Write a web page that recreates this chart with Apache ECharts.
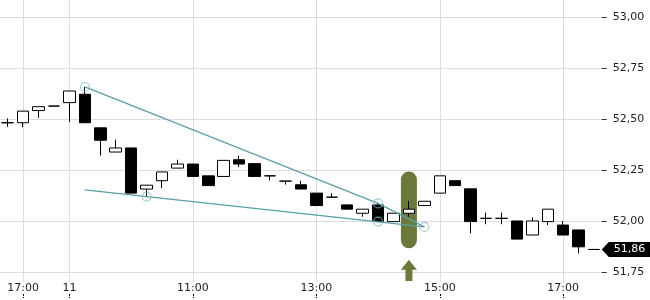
<!DOCTYPE html>
<html>
<head>
<meta charset="utf-8">
<script src="https://cdn.jsdelivr.net/npm/echarts@6/dist/echarts.min.js"></script>
<style>html,body{margin:0;padding:0;background:#fff;}#c{width:650px;height:300px;}</style>
</head>
<body>
<div id="c"></div>
<script>
// ---- data ----
var categories = ['16:45','17:00','17:15','17:30',
  '09:00','09:15','09:30','09:45','10:00','10:15','10:30','10:45',
  '11:00','11:15','11:30','11:45','12:00','12:15','12:30','12:45',
  '13:00','13:15','13:30','13:45','14:00','14:15','14:30','14:45',
  '15:00','15:15','15:30','15:45','16:00','16:15','16:30','16:45',
  '17:00','17:15','17:30'];
var opens  = [52.483,52.483,52.543,52.565,52.582,52.623,52.458,52.339,52.359,52.157,52.198,52.260,52.280,52.222,52.219,52.301,52.282,52.222,52.196,52.178,52.137,52.117,52.079,52.038,52.079,51.997,52.038,52.076,52.137,52.198,52.158,52.013,52.013,52.000,51.931,51.997,51.980,51.956,51.860];
var closes = [52.483,52.540,52.562,52.565,52.639,52.483,52.397,52.359,52.137,52.176,52.241,52.280,52.219,52.174,52.298,52.280,52.219,52.222,52.196,52.157,52.076,52.117,52.058,52.058,51.997,52.038,52.058,52.097,52.222,52.174,51.997,52.013,52.013,51.911,52.000,52.058,51.931,51.873,51.860];
var lows   = [52.463,52.461,52.507,52.565,52.486,52.483,52.321,52.339,52.137,52.120,52.162,52.260,52.219,52.174,52.219,52.265,52.219,52.199,52.179,52.157,52.076,52.117,52.058,52.021,51.997,51.997,52.021,52.076,52.137,52.174,51.939,51.984,51.984,51.911,51.931,51.980,51.931,51.840,51.860];
var highs  = [52.504,52.540,52.562,52.565,52.639,52.659,52.458,52.400,52.359,52.176,52.241,52.301,52.280,52.222,52.298,52.321,52.282,52.222,52.196,52.198,52.137,52.137,52.079,52.058,52.086,52.038,52.099,52.097,52.222,52.198,52.158,52.041,52.041,52.000,52.018,52.058,52.000,51.956,51.860];

var xTickIndex = [1, 4, 12, 20, 28, 36];
var xTickText  = ['17:00', '11', '11:00', '13:00', '15:00', '17:00'];
var yTicks = [51.75, 52.00, 52.25, 52.50, 52.75, 53.00];

var upperTrend = [[5, 52.659], [24, 52.0865], [27, 51.971]];
var lowerTrend = [[5, 52.153], [27, 51.971]];
var anchorPoints = [[5, 52.659], [9, 52.120], [24, 52.0865], [24, 51.997], [27, 51.971]];

var markerIndex = [26];
var markerHigh = [52.243];
var markerLow = [51.866];
var arrowTip = [51.809];
var arrowBase = [51.7055];

var lastIndex = [38];
var lastPrice = [51.86];

// ---- build ----
var candleData = opens.map(function (o, i) { return [o, closes[i], lows[i], highs[i]]; });
var fmt = function (v) { return v.toFixed(2).replace('.', ','); };
var FONT = 'DejaVu Sans';
var GRID_LEFT = -0.7, GRID_RIGHT = 48.2;

var chart = echarts.init(document.getElementById('c'), null, {renderer: 'canvas'});
chart.setOption({
  animation: false,
  backgroundColor: '#fff',
  grid: [
    {left: GRID_LEFT, right: GRID_RIGHT, top: 0, height: 282},
    {left: GRID_LEFT, right: GRID_RIGHT, top: 17.6, height: 254.2}
  ],
  xAxis: [
    {
      type: 'category', gridIndex: 0, data: categories, boundaryGap: true,
      axisLine: {show: false}, axisTick: {show: false},
      axisLabel: {
        interval: function (i) { return xTickIndex.indexOf(i) >= 0; },
        formatter: function (v, i) { var k = xTickIndex.indexOf(i); return k >= 0 ? xTickText[k] : ''; },
        margin: 1, fontFamily: FONT, fontSize: 11, color: '#222'
      },
      splitLine: {
        show: true, alignWithLabel: true,
        interval: function (i) { return xTickIndex.indexOf(i) >= 0; },
        lineStyle: {color: '#dcdcdc', width: 1}
      }
    },
    {
      type: 'category', gridIndex: 1, data: categories, boundaryGap: true,
      position: 'bottom', offset: 22.2,
      axisLine: {show: false},
      axisTick: {
        show: true, alignWithLabel: true, length: 4,
        interval: function (i) { return xTickIndex.indexOf(i) >= 0; },
        lineStyle: {color: '#000', width: 1, type: [2, 1]}
      },
      axisLabel: {show: false}, splitLine: {show: false}
    }
  ],
  yAxis: [
    {
      type: 'value', gridIndex: 0, min: 51.70, max: 53.0865, position: 'right',
      axisLine: {show: false}, axisTick: {show: false}, axisLabel: {show: false}, splitLine: {show: false}
    },
    {
      type: 'value', gridIndex: 1, min: yTicks[0], max: yTicks[yTicks.length - 1], interval: 0.25, position: 'right',
      axisLine: {show: false},
      axisTick: {show: true, length: 5, lineStyle: {color: '#333', width: 1}},
      axisLabel: {formatter: fmt, margin: 11, fontFamily: FONT, fontSize: 11, color: '#222'},
      splitLine: {show: true, lineStyle: {color: '#dcdcdc', width: 1}}
    }
  ],
  series: [
    {
      type: 'custom', xAxisIndex: 0, yAxisIndex: 0, z: 1, clip: false,
      data: markerIndex.map(function (x, i) { return [x, markerHigh[i], markerLow[i], arrowTip[i], arrowBase[i]]; }),
      renderItem: function (params, api) {
        var top = api.coord([api.value(0), api.value(1)]);
        var bot = api.coord([api.value(0), api.value(2)]);
        var tip = api.coord([api.value(0), api.value(3)]);
        var base = api.coord([api.value(0), api.value(4)]);
        var cx = top[0], w = 16, c = '#6b7a3a';
        var headH = 10, shaftW = 7;
        return {
          type: 'group',
          children: [
            {type: 'rect', shape: {x: cx - w / 2, y: top[1], width: w, height: bot[1] - top[1], r: 8}, style: {fill: c}},
            {type: 'polygon', shape: {points: [
              [cx, tip[1]], [cx + w / 2, tip[1] + headH], [cx + shaftW / 2, tip[1] + headH],
              [cx + shaftW / 2, base[1]], [cx - shaftW / 2, base[1]], [cx - shaftW / 2, tip[1] + headH],
              [cx - w / 2, tip[1] + headH]
            ]}, style: {fill: c}}
          ]
        };
      }
    },
    {
      type: 'candlestick', xAxisIndex: 0, yAxisIndex: 0, z: 2,
      data: candleData, barWidth: 12,
      itemStyle: {
        color: '#ffffff', color0: '#000000',
        borderColor: '#000000', borderColor0: '#000000', borderColorDoji: '#000000',
        borderWidth: 1
      }
    },
    {
      type: 'line', xAxisIndex: 0, yAxisIndex: 0, z: 3, data: upperTrend,
      showSymbol: false, lineStyle: {color: '#5a9fa6', width: 1.3}, silent: true
    },
    {
      type: 'line', xAxisIndex: 0, yAxisIndex: 0, z: 3, data: lowerTrend,
      showSymbol: false, lineStyle: {color: '#5a9fa6', width: 1.3}, silent: true
    },
    {
      type: 'scatter', xAxisIndex: 0, yAxisIndex: 0, z: 4, data: anchorPoints,
      symbol: 'circle', symbolSize: 9,
      itemStyle: {color: 'rgba(0,0,0,0)', borderColor: '#7fbcc4', borderWidth: 1.1}, silent: true
    },
    {
      type: 'custom', xAxisIndex: 0, yAxisIndex: 0, z: 5, clip: false,
      data: lastIndex.map(function (x, i) { return [x, lastPrice[i]]; }),
      renderItem: function (params, api) {
        var p = api.coord([api.value(0), api.value(1)]);
        var bw = api.size([1, 0])[0];
        var x0 = p[0] + bw / 2, y = p[1], h = 7.5, W = api.getWidth();
        return {
          type: 'group',
          children: [
            {type: 'polygon', shape: {points: [[x0, y], [x0 + 7, y - h], [W, y - h], [W, y + h], [x0 + 7, y + h]]}, style: {fill: '#000'}},
            {type: 'text', style: {text: fmt(api.value(1)), x: x0 + 12, y: y, verticalAlign: 'middle', fill: '#fff', font: '11px "DejaVu Sans"'}}
          ]
        };
      }
    }
  ]
});
</script>
</body>
</html>
